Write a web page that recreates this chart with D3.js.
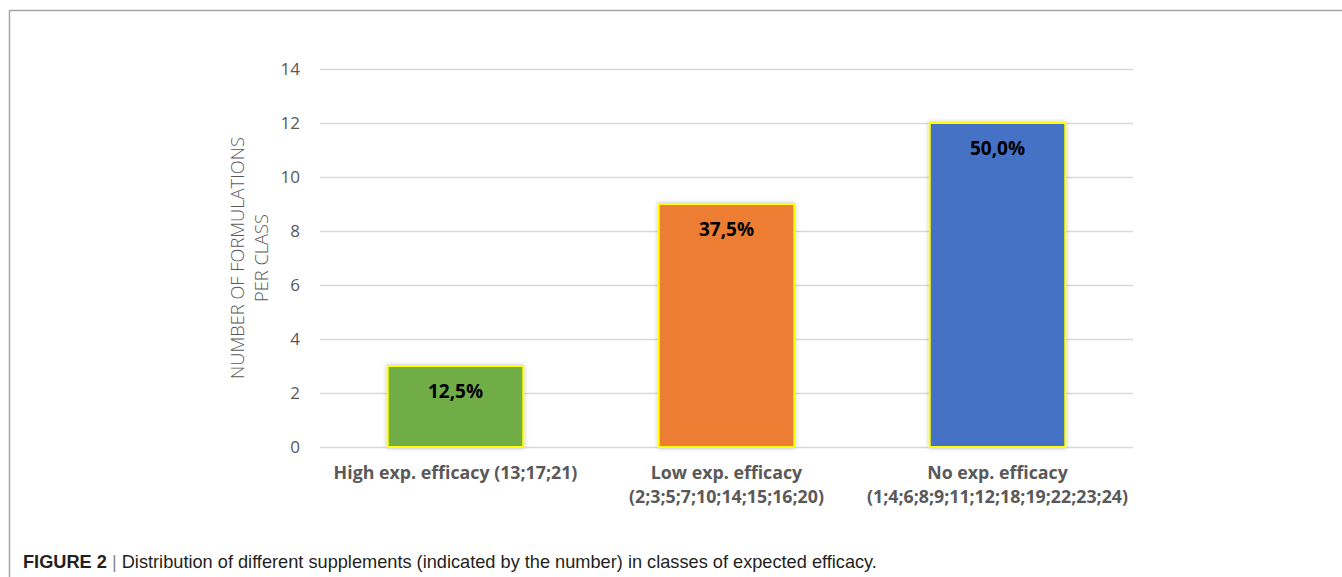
<!DOCTYPE html>
<html><head><meta charset="utf-8">
<script src="https://d3js.org/d3.v7.min.js"></script>
<style>body{margin:0;background:#fff}svg{display:block}</style>
</head><body>
<script>
const categoriesLine1 = ["High exp. efficacy (13;17;21)", "Low exp. efficacy", "No exp. efficacy"];
const categoriesLine2 = ["", "(2;3;5;7;10;14;15;16;20)", "(1;4;6;8;9;11;12;18;19;22;23;24)"];
const counts = [3, 9, 12];
const percentLabels = ["12,5%", "37,5%", "50,0%"];
const barColors = ["#70ad47", "#ed7d31", "#4472c4"];
const yTicks = [0, 2, 4, 6, 8, 10, 12, 14];
const yTitle = ["NUMBER OF FORMULATIONS", "PER CLASS"];

const W = 1342, H = 577;
const svg = d3.select("body").append("svg").attr("width", W).attr("height", H);

// frame lines
svg.append("line").attr("x1", 9.5).attr("x2", W).attr("y1", 10.5).attr("y2", 10.5).attr("stroke", "#a6a6a6").attr("stroke-width", 1.5);
svg.append("line").attr("x1", 9.5).attr("x2", 9.5).attr("y1", 10).attr("y2", H).attr("stroke", "#a6a6a6").attr("stroke-width", 1.5);

const x = d3.scaleBand().domain(d3.range(counts.length)).range([320, 1133]).paddingInner(0.5).paddingOuter(0.25);
const y = d3.scaleLinear().domain([0, 14]).range([447, 69]);

const defs = svg.append("defs");
const f = defs.append("filter").attr("id", "sh").attr("x", "-10%").attr("y", "-10%").attr("width", "120%").attr("height", "120%");
f.append("feDropShadow").attr("dx", 0).attr("dy", 0).attr("stdDeviation", 2).attr("flood-color", "#000").attr("flood-opacity", 0.25);

// grid
const yAxis = d3.axisLeft(y).tickValues(yTicks).tickSize(-(1133 - 320)).tickPadding(20);
const gy = svg.append("g").attr("transform", "translate(320,0)").call(yAxis);
gy.select(".domain").remove();
gy.selectAll(".tick line").attr("stroke", "#d9d9d9").attr("stroke-width", 1.3);
gy.selectAll(".tick text").attr("fill", "#595959").attr("font-family", "'Open Sans', sans-serif").attr("font-size", 17);

// axis title
const tt = svg.append("text").attr("transform", "translate(250,258) rotate(-90)")
  .attr("text-anchor", "middle").attr("fill", "#595959")
  .attr("font-family", "'Open Sans', sans-serif").attr("font-size", 18.3).attr("font-weight", 300);
tt.append("tspan").attr("x", 0).attr("y", -6).text(yTitle[0]);
tt.append("tspan").attr("x", 0).attr("y", 18).text(yTitle[1]);

// bars
svg.append("g").selectAll("rect").data(counts).join("rect")
  .attr("x", (d, i) => x(i)).attr("width", x.bandwidth())
  .attr("y", d => y(d)).attr("height", d => y(0) - y(d))
  .attr("fill", (d, i) => barColors[i]).attr("stroke", "#ffff00").attr("stroke-width", 2)
  .attr("filter", "url(#sh)");

svg.append("g").selectAll("text").data(counts).join("text")
  .attr("x", (d, i) => x(i) + x.bandwidth() / 2).attr("y", d => y(d) + 32)
  .attr("text-anchor", "middle").attr("font-family", "'Open Sans', sans-serif")
  .attr("font-weight", 700).attr("font-size", 19).attr("fill", "#000")
  .text((d, i) => percentLabels[i]);

// category labels
const cl = svg.append("g").selectAll("text").data(counts).join("text")
  .attr("text-anchor", "middle").attr("font-family", "'Open Sans', sans-serif")
  .attr("font-weight", 700).attr("font-size", 17.8).attr("fill", "#595959");
cl.append("tspan").attr("x", (d, i) => x(i) + x.bandwidth() / 2).attr("y", 479).text((d, i) => categoriesLine1[i]);
cl.append("tspan").attr("x", (d, i) => x(i) + x.bandwidth() / 2).attr("y", 503).text((d, i) => categoriesLine2[i]);

// caption
const cap = svg.append("text").attr("x", 23).attr("y", 568)
  .attr("font-family", "'Liberation Sans', Arial, sans-serif").attr("font-size", 18.2).attr("fill", "#231f20");
cap.append("tspan").attr("font-weight", 700).text("FIGURE 2");
cap.append("tspan").attr("fill", "#888").text(" | ");
cap.append("tspan").text("Distribution of different supplements (indicated by the number) in classes of expected efficacy.");
</script>
</body></html>
